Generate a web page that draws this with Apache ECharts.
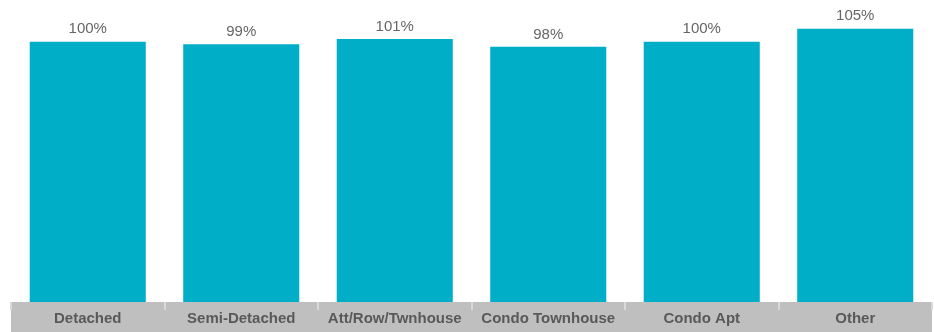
<!DOCTYPE html>
<html>
<head>
<meta charset="utf-8">
<script src="https://cdn.jsdelivr.net/npm/echarts@6/dist/echarts.min.js"></script>
<style>
html, body { margin: 0; padding: 0; background: #fff; }
#main { width: 934px; height: 332px; }
</style>
</head>
<body>
<div id="main"></div>
<script>
var categories = ['Detached', 'Semi-Detached', 'Att/Row/Twnhouse', 'Condo Townhouse', 'Condo Apt', 'Other'];
var values = [100, 99, 101, 98, 100, 105];

var chart = echarts.init(document.getElementById('main'));

var option = {
    animation: false,
    grid: { left: 11, right: 2, top: 0, bottom: 30 },
    // grey band behind the category labels
    graphic: [{
        type: 'rect',
        left: 11,
        bottom: 0,
        z: -1,
        shape: { width: 921, height: 30 },
        style: { fill: '#BFBFBF' }
    }],
    xAxis: {
        type: 'category',
        data: categories,
        axisLine: { show: false },
        axisTick: { show: true, length: 8, lineStyle: { color: '#D9D9D9', width: 2 } },
        axisLabel: {
            interval: 0,
            margin: 17,
            verticalAlign: 'middle',
            fontFamily: 'Liberation Sans, Arial, sans-serif',
            fontWeight: 'bold',
            fontSize: 15,
            color: '#595959'
        }
    },
    yAxis: {
        type: 'value',
        min: 0,
        max: 116,
        show: false
    },
    series: [{
        type: 'bar',
        data: values,
        barWidth: '75.6%',
        itemStyle: { color: '#00AEC7' },
        label: {
            show: true,
            position: 'top',
            distance: 5,
            formatter: '{c}%',
            fontFamily: 'Liberation Sans, Arial, sans-serif',
            fontSize: 15,
            color: '#666666'
        }
    }]
};

chart.setOption(option);
</script>
</body>
</html>
